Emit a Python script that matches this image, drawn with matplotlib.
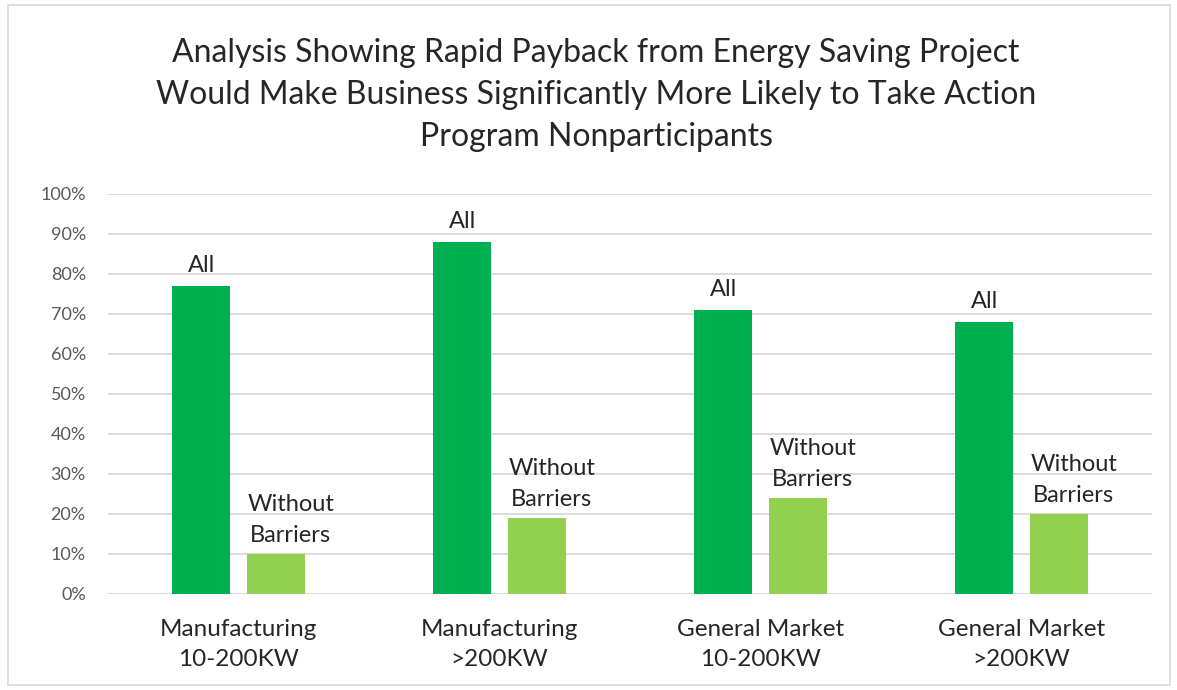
import matplotlib
matplotlib.use("Agg")
import matplotlib.pyplot as plt
import numpy as np
from matplotlib.patches import Rectangle

categories = ["Manufacturing\n10-200KW", "Manufacturing\n>200KW", "General Market\n10-200KW", "General Market\n>200KW"]
all_vals = [77, 88, 71, 68]
without_vals = [10, 19, 24, 20]
series_labels = ["All", "Without\nBarriers"]
title = ("Analysis Showing Rapid Payback from Energy Saving Project\n"
         "Would Make Business Significantly More Likely to Take Action\n"
         "Program Nonparticipants")

plt.rcParams['font.family'] = ['Lato', 'DejaVu Sans']

W, H = 1177, 690
fig = plt.figure(figsize=(W/100, H/100), dpi=100)
fig.patches.append(Rectangle((8/W, 5/H), (1170-8)/W, (685-5)/H, transform=fig.transFigure,
                             fill=False, edgecolor="#d9d9d9", linewidth=1.2))
ax = fig.add_axes([108/W, 1-594/H, (1152-108)/W, 400/H])

x = np.arange(len(categories))
bw = 0.222
off = 0.142
dark = "#00b050"
light = "#92d050"
b1 = ax.bar(x - off, all_vals, bw, color=dark, zorder=3)
b2 = ax.bar(x + off, without_vals, bw, color=light, zorder=3)
for r in b1:
    ax.annotate(series_labels[0], (r.get_x()+r.get_width()/2, r.get_height()), xytext=(0, 7),
                textcoords="offset points", ha="center", va="bottom", fontsize=17, color="#262626")
for r in b2:
    ax.annotate(series_labels[1], (r.get_x()+r.get_width()/2, r.get_height()), xytext=(11, 6),
                textcoords="offset points", ha="center", va="bottom", fontsize=17, color="#262626",
                linespacing=1.55)

ax.set_xlim(-0.5, 3.5)
ax.set_ylim(0, 100)
ax.set_yticks(range(0, 101, 10))
ax.set_yticklabels([f"{v}%" for v in range(0, 101, 10)], fontsize=13, color="#595959")
ax.set_xticks(x)
ax.set_xticklabels(categories, fontsize=17.5, color="#262626", linespacing=1.55)
ax.tick_params(axis="both", length=0)
ax.tick_params(axis="x", pad=18)
ax.tick_params(axis="y", pad=16)
ax.grid(axis="y", color="#d9d9d9", linewidth=1.3, zorder=0)
for s in ax.spines.values():
    s.set_visible(False)

fig.text(596/W, 1-95/H, title, ha="center", va="center", fontsize=23, color="#262626", linespacing=1.5)

fig.savefig("out.png", dpi=100)
